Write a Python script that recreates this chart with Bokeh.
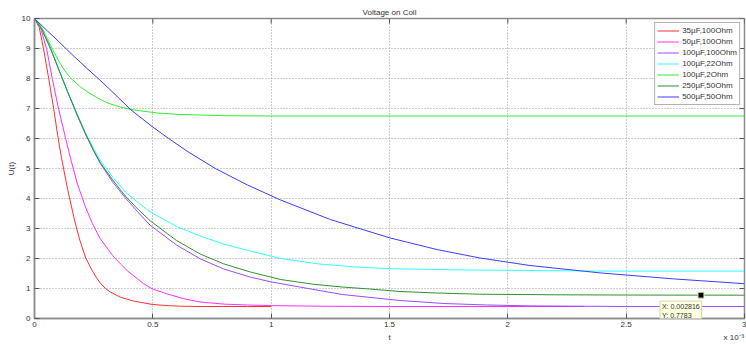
from bokeh.plotting import figure
from bokeh.models import Range1d, FixedTicker, Label, Legend, LegendItem, LinearAxis
from bokeh.embed import file_html
from bokeh.resources import INLINE

# time axis in units of 1e-3 s, voltage in volts
t_35u_100 = [0, 0.02, 0.038, 0.06, 0.081, 0.098, 0.113, 0.14, 0.17, 0.19, 0.215, 0.24, 0.26, 0.278, 0.30, 0.321, 0.363, 0.419, 0.497, 0.56, 0.616, 0.7, 0.8, 0.9, 1.0]
u_35u_100 = [10, 9.7, 9.0, 8.0, 7.0, 6.1, 5.4, 4.3, 3.25, 2.65, 2.05, 1.65, 1.38, 1.18, 1.0, 0.88, 0.71, 0.58, 0.47, 0.43, 0.41, 0.40, 0.40, 0.40, 0.40]

t_50u_100 = [0, 0.025, 0.051, 0.075, 0.1, 0.13, 0.152, 0.18, 0.215, 0.245, 0.278, 0.33, 0.363, 0.391, 0.461, 0.497, 0.56, 0.63, 0.70, 0.8, 0.9, 1.0, 1.2, 1.5, 1.9, 2.325]
u_50u_100 = [10, 9.7, 9.0, 8.0, 7.05, 6.05, 5.35, 4.52, 3.72, 3.16, 2.66, 2.1, 1.82, 1.6, 1.16, 0.99, 0.82, 0.66, 0.55, 0.48, 0.45, 0.43, 0.41, 0.40, 0.40, 0.40]

t_100u_100 = [0, 0.03, 0.068, 0.1, 0.14, 0.18, 0.215, 0.25, 0.278, 0.33, 0.384, 0.44, 0.49, 0.6, 0.7, 0.8, 0.912, 1.0, 1.12, 1.3, 1.545, 1.73, 1.915, 2.1, 2.5, 3.0]
u_100u_100 = [10, 9.65, 9.0, 8.35, 7.55, 6.78, 6.15, 5.58, 5.17, 4.55, 4.02, 3.52, 3.1, 2.45, 1.99, 1.65, 1.38, 1.22, 1.05, 0.8, 0.6, 0.5, 0.45, 0.42, 0.40, 0.40]

t_100u_22 = [0, 0.03, 0.068, 0.1, 0.14, 0.18, 0.215, 0.25, 0.278, 0.33, 0.384, 0.44, 0.49, 0.6, 0.7, 0.8, 0.912, 1.04, 1.2, 1.35, 1.5, 1.8, 2.09, 2.4, 3.0]
u_100u_22 = [10, 9.65, 9.0, 8.35, 7.57, 6.82, 6.2, 5.66, 5.28, 4.72, 4.22, 3.85, 3.55, 3.07, 2.75, 2.48, 2.25, 2.0, 1.82, 1.72, 1.66, 1.62, 1.6, 1.58, 1.58]

t_100u_2 = [0, 0.03, 0.068, 0.1, 0.124, 0.152, 0.194, 0.23, 0.265, 0.31, 0.363, 0.405, 0.45, 0.52, 0.616, 0.8, 1.0, 1.5, 2.0, 3.0]
u_100u_2 = [10, 9.72, 9.1, 8.62, 8.3, 8.02, 7.72, 7.52, 7.36, 7.18, 7.05, 6.97, 6.92, 6.85, 6.8, 6.76, 6.75, 6.75, 6.75, 6.75]

t_250u_50 = [0, 0.03, 0.068, 0.1, 0.14, 0.18, 0.215, 0.25, 0.278, 0.33, 0.384, 0.44, 0.49, 0.6, 0.7, 0.8, 0.912, 1.04, 1.18, 1.3, 1.42, 1.545, 1.7, 1.88, 2.2, 2.6, 2.816, 3.0]
u_250u_50 = [10, 9.65, 9.0, 8.35, 7.56, 6.8, 6.17, 5.6, 5.2, 4.62, 4.08, 3.62, 3.25, 2.6, 2.15, 1.82, 1.55, 1.3, 1.14, 1.05, 0.98, 0.9, 0.85, 0.81, 0.79, 0.78, 0.7783, 0.777]

t_500u_50 = [0, 0.05, 0.1, 0.148, 0.22, 0.29, 0.36, 0.405, 0.5, 0.567, 0.65, 0.764, 0.9, 1.04, 1.25, 1.5, 1.7, 1.88, 2.09, 2.39, 2.7, 3.0]
u_500u_50 = [10, 9.62, 9.25, 8.88, 8.35, 7.85, 7.32, 6.97, 6.38, 6.0, 5.55, 5.0, 4.45, 3.95, 3.3, 2.69, 2.3, 2.02, 1.77, 1.52, 1.32, 1.16]

series_names = ["35µF,100Ohm", "50µF,100Ohm", "100µF,100Ohm", "100µF,22Ohm",
                "100µF,2Ohm", "250µF,50Ohm", "500µF,50Ohm"]
series_t = [t_35u_100, t_50u_100, t_100u_100, t_100u_22, t_100u_2, t_250u_50, t_500u_50]
series_u = [u_35u_100, u_50u_100, u_100u_100, u_100u_22, u_100u_2, u_250u_50, u_500u_50]
series_colors = ["#ff3030", "#ff30ff", "#9a4cff", "#30ffff", "#30ee30", "#2f922f", "#3c3cff"]

x_ticks = [0, 0.5, 1, 1.5, 2, 2.5, 3]
x_tick_labels = ["0", "0.5", "1", "1.5", "2", "2.5", "3"]
y_ticks = list(range(0, 11))

# second row under the time axis: axis name and the power-of-ten multiplier
x_name_pos = [1.5, 2.955]
x_name_text = ["t", "x 10⁻³"]

tip_x = 2.816
tip_u = 0.7783

FONT = "Liberation Sans"
TEXT = "#333333"
FRAME = "#8c8c8c"
TICK = "#555555"

X0, X1, Y0, Y1 = 0, 3, 0, 10
FRAME_W, FRAME_H = 710, 300
TICK_LEN = 5

p = figure(width=746, height=345, output_backend="svg", toolbar_location=None,
           x_range=Range1d(X0, X1), y_range=Range1d(Y0, Y1),
           frame_width=FRAME_W, frame_height=FRAME_H,
           min_border_left=34, min_border_right=2, min_border_top=18, min_border_bottom=27,
           background_fill_color="white", border_fill_color="white")
p.outline_line_color = FRAME
p.outline_line_width = 1.5

p.title.text = "Voltage on Coil"
p.title.align = "center"
p.title.text_font = FONT
p.title.text_font_size = "8px"
p.title.text_font_style = "normal"
p.title.text_color = TEXT
p.title.standoff = 4

for ax in (p.xaxis[0], p.yaxis[0]):
    ax.major_tick_in = TICK_LEN
    ax.major_tick_out = 0
    ax.minor_tick_in = 0
    ax.minor_tick_out = 0
    ax.axis_line_color = FRAME
    ax.axis_line_width = 1.5
    ax.major_tick_line_color = TICK
    ax.major_label_text_font = FONT
    ax.major_label_text_font_size = "8px"
    ax.major_label_text_color = TEXT
    ax.axis_label_text_font = FONT
    ax.axis_label_text_font_size = "8px"
    ax.axis_label_text_font_style = "normal"
    ax.axis_label_text_color = TEXT

p.xaxis.ticker = FixedTicker(ticks=x_ticks)
p.xaxis.major_label_overrides = {t: s for t, s in zip(x_ticks, x_tick_labels)}
p.xaxis.major_label_standoff = 3
p.yaxis.ticker = FixedTicker(ticks=y_ticks)
p.yaxis.major_label_standoff = 4
p.yaxis.axis_label = "U(t)"
p.yaxis.axis_label_standoff = 3

name_axis = LinearAxis(ticker=FixedTicker(ticks=x_name_pos),
                       major_label_overrides={t: s for t, s in zip(x_name_pos, x_name_text)},
                       axis_line_color=None, major_tick_line_color=None,
                       minor_tick_line_color=None, major_tick_in=0, major_tick_out=0,
                       minor_tick_in=0, minor_tick_out=0, major_label_standoff=3,
                       major_label_text_font=FONT, major_label_text_font_size="8px",
                       major_label_text_color=TEXT)
p.add_layout(name_axis, "below")

p.xgrid.ticker = FixedTicker(ticks=x_ticks)
p.ygrid.ticker = FixedTicker(ticks=y_ticks)
for g in (p.xgrid[0], p.ygrid[0]):
    g.grid_line_color = "#9a9a9a"
    g.grid_line_dash = "1 2"
    g.grid_line_width = 1

# mirrored inward tick marks along the top and right edges of the box
dy = TICK_LEN * (Y1 - Y0) / FRAME_H
dx = TICK_LEN * (X1 - X0) / FRAME_W
p.segment(x0=x_ticks, y0=[Y1] * len(x_ticks), x1=x_ticks, y1=[Y1 - dy] * len(x_ticks),
          line_color=TICK, line_width=1)
p.segment(x0=[X1] * len(y_ticks), y0=y_ticks, x1=[X1 - dx] * len(y_ticks), y1=y_ticks,
          line_color=TICK, line_width=1)

items = []
for name, ts, us, c in zip(series_names, series_t, series_u, series_colors):
    r = p.line(ts, us, line_color=c, line_width=1)
    items.append(LegendItem(label=name, renderers=[r]))

legend = Legend(items=items, location="top_right",
                label_text_font=FONT, label_text_font_size="8px", label_text_color=TEXT,
                glyph_width=22, glyph_height=11, label_height=11, label_standoff=3,
                spacing=0, padding=2, margin=4,
                border_line_color="#666666", border_line_width=1,
                background_fill_color="white", background_fill_alpha=1)
p.add_layout(legend)

# data cursor on the 250µF curve
p.scatter([tip_x], [tip_u], marker="square", size=6, fill_color="black",
          line_color="#e8e8c0", line_width=1)
p.add_layout(Label(x=tip_x, y=tip_u, text=f"X: {tip_x/1000:.6g}\nY: {tip_u}",
                   x_offset=-41, y_offset=-6, text_align="left", text_baseline="top",
                   text_font=FONT, text_font_size="7px", text_color="#333333",
                   background_fill_color="#ffffe1", border_line_color="#d8d8a8",
                   padding=2))

open("out.html", "w").write(file_html(p, INLINE))
